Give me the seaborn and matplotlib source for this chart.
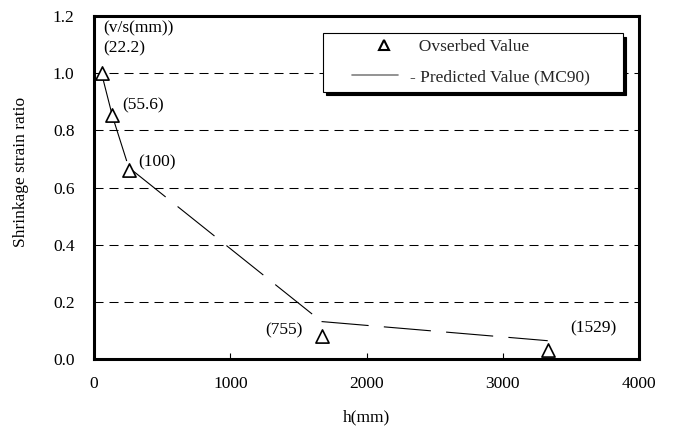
import numpy as np
import pandas as pd
import matplotlib
matplotlib.use("Agg")
import matplotlib.pyplot as plt
from matplotlib.lines import Line2D
from matplotlib.legend_handler import HandlerLine2D
import seaborn as sns

# ---- data ----
h_mm = [55, 135, 255, 1670, 3330]
observed = [1.0, 0.853, 0.66, 0.079, 0.03]
predicted = [1.0, 0.85, 0.67, 0.131, 0.064]
vs_labels = ["(22.2)", "(55.6)", "(100)", "(755)", "(1529)"]
x_ticks = [0, 1000, 2000, 3000, 4000]
y_ticks = [0.0, 0.2, 0.4, 0.6, 0.8, 1.0, 1.2]

sns.set_theme(style="white")
plt.rcParams["font.family"] = ["Liberation Serif", "DejaVu Serif"]
plt.rcParams["lines.scale_dashes"] = False

fig = plt.figure(figsize=(6.73, 4.28), dpi=100)
ax = fig.add_axes([0.1397, 0.1612, 0.8098, 0.8014])

# predicted line: dashes restart on every segment
seg_rows = []
for i in range(len(h_mm) - 1):
    seg_rows.append({"h": h_mm[i], "ratio": predicted[i], "seg": i})
    seg_rows.append({"h": h_mm[i + 1], "ratio": predicted[i + 1], "seg": i})
seg_df = pd.DataFrame(seg_rows)
sns.lineplot(data=seg_df, x="h", y="ratio", units="seg", estimator=None, sort=False,
             color="black", linewidth=0.8, linestyle=(0, (34, 11)), ax=ax, zorder=3,
             legend=False)

obs_df = pd.DataFrame({"h": h_mm, "ratio": observed})
sns.scatterplot(data=obs_df, x="h", y="ratio", marker="^", s=90, facecolor="white",
                edgecolor="black", linewidth=1.2, ax=ax, zorder=4, legend=False)

ax.set_xlim(0, 4000)
ax.set_ylim(0, 1.2)
ax.set_xticks(x_ticks)
ax.set_yticks(y_ticks)
ax.set_xticklabels([str(t) for t in x_ticks])
ax.set_yticklabels([f"{t:.1f}" for t in y_ticks])
ax.tick_params(axis="x", direction="in", length=4, width=0.8, color="black",
               labelsize=12.5, pad=12, bottom=True)
ax.tick_params(axis="y", length=0, labelsize=12.5, pad=14, left=False)
for lab in ax.get_xticklabels() + ax.get_yticklabels():
    lab.set_color("black")

ax.yaxis.grid(True, color="black", linewidth=0.75, linestyle=(0, (6.5, 4.3)))
ax.xaxis.grid(False)
ax.set_axisbelow(True)

for sp in ax.spines.values():
    sp.set_visible(True)
    sp.set_color("black")
    sp.set_linewidth(2.2)

ax.set_xlabel("h(mm)", fontsize=12.5, color="black", va="center")
ax.set_ylabel("Shrinkage strain ratio", fontsize=12.5, color="black", va="center")
ax.xaxis.set_label_coords(0.5, -0.169)
ax.yaxis.set_label_coords(-0.134, 0.545)

# annotations
ax.text(66, 1.158, "(v/s(mm))", fontsize=12.5, ha="left", va="center", color="black")
label_pos = [(66, 1.088), (205, 0.889), (323, 0.689), (1255, 0.101), (3494, 0.108)]
for (x, y), t in zip(label_pos, vs_labels):
    ax.text(x, y, t, fontsize=12.5, ha="left", va="center", color="black")


class FracHandler(HandlerLine2D):
    def __init__(self, f0, f1, fm, **kw):
        super().__init__(**kw)
        self.f0, self.f1, self.fm = f0, f1, fm

    def create_artists(self, legend, orig_handle, xdescent, ydescent, width, height,
                       fontsize, trans):
        arts = super().create_artists(legend, orig_handle, xdescent, ydescent, width,
                                      height, fontsize, trans)
        x0 = -xdescent
        for a in arts:
            n = len(a.get_xdata())
            if n == 3:
                a.set_xdata([x0 + self.f0 * width, x0 + self.fm * width,
                             x0 + self.f1 * width])
            elif n == 2:
                a.set_xdata([x0 + self.f0 * width, x0 + self.f1 * width])
            elif n == 1:
                a.set_xdata([x0 + self.fm * width])
        return arts


h_obs = Line2D([], [], linestyle="none", marker="^", markersize=7, markerfacecolor="white",
               markeredgecolor="black", markeredgewidth=1.5)
h_pred = Line2D([], [], color="#808080", linewidth=1.2)
leg = ax.legend([h_obs, h_pred], ["  Ovserbed Value", "- Predicted Value (MC90)"],
                handler_map={h_obs: FracHandler(0.33, 1.0, 0.8),
                             h_pred: FracHandler(0.33, 1.0, 0.66)},
                loc="upper left", bbox_to_anchor=(0.42, 0.95, 0.5505, 0.0), mode="expand",
                fontsize=12.5, frameon=True, fancybox=False, framealpha=1, edgecolor="black",
                shadow={"color": "black", "alpha": 1, "ox": 2.5, "oy": -2.5},
                handlelength=3.97, handletextpad=0.69, labelspacing=0.8,
                borderpad=0.35, borderaxespad=0)
leg.get_frame().set_linewidth(0.8)
leg.set_zorder(10)

fig.savefig("out.png", dpi=100)
